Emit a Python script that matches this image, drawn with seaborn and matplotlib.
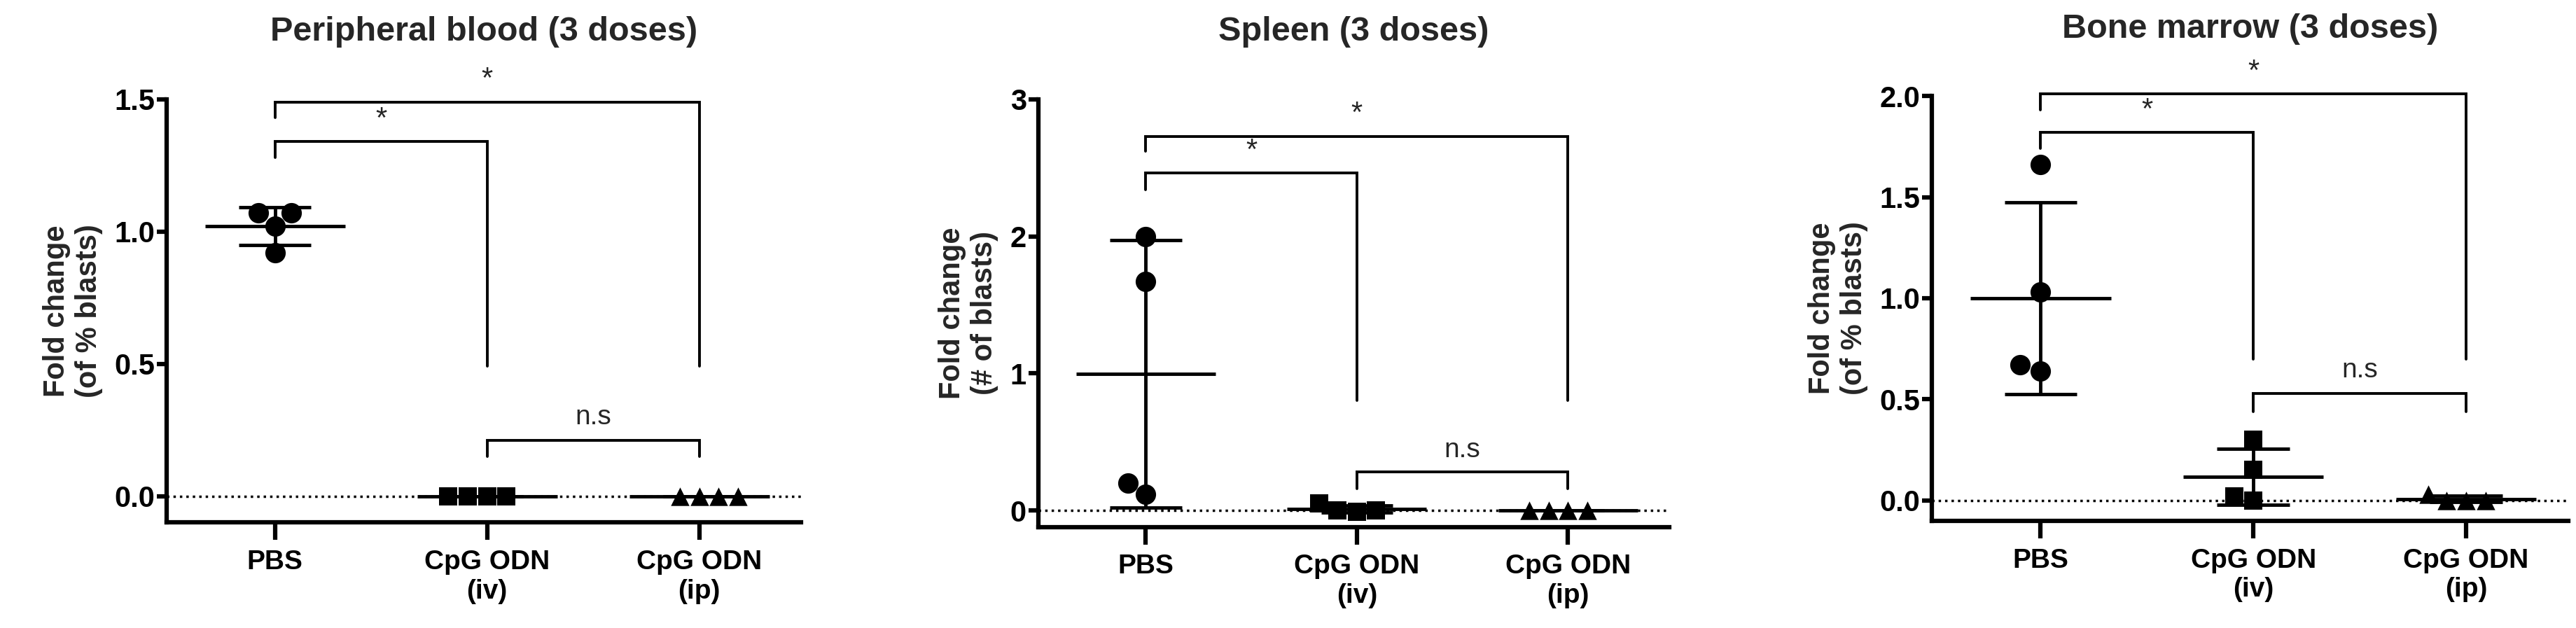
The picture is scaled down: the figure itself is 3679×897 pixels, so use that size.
import matplotlib
matplotlib.use("Agg")
import matplotlib.pyplot as plt
import seaborn as sns
import numpy as np
import pandas as pd

sns.set_theme(style="ticks")
plt.rcParams['font.family'] = ['Liberation Sans', 'DejaVu Sans']

groups = ["PBS", "CpG ODN\n(iv)", "CpG ODN\n(ip)"]
markers = ["o", "s", "^"]

titles = ["Peripheral blood (3 doses)", "Spleen (3 doses)", "Bone marrow (3 doses)"]
ylabels = ["Fold change\n(of % blasts)", "Fold change\n(# of blasts)", "Fold change\n(of % blasts)"]

pb_pbs = [1.07, 1.02, 1.07, 0.92]
pb_iv = [0.0, 0.0, 0.0, 0.0]
pb_ip = [0.0, 0.0, 0.0, 0.0]
sp_pbs = [2.0, 1.67, 0.12, 0.2]
sp_iv = [0.0, -0.01, 0.0, 0.05]
sp_ip = [0.0, 0.0, 0.0, 0.0]
bm_pbs = [1.66, 1.03, 0.64, 0.67]
bm_iv = [0.3, 0.15, 0.0, 0.02]
bm_ip = [0.0, 0.0, 0.0, 0.03]

yticks = [[0.0, 0.5, 1.0, 1.5], [0, 1, 2, 3], [0.0, 0.5, 1.0, 1.5, 2.0]]
yticklabels = [["0.0", "0.5", "1.0", "1.5"], ["0", "1", "2", "3"], ["0.0", "0.5", "1.0", "1.5", "2.0"]]
ylims = [(-0.1, 1.5), (-0.12, 3.0), (-0.1, 2.0)]

# brackets: (y_bar, left_leg_end, right_leg_end, label_y)
top_br = [(1.49, 1.43, 0.49, 1.52), (2.73, 2.62, 0.8, 2.79), (2.01, 1.93, 0.70, 2.05)]
mid_br = [(1.34, 1.28, 0.49, 1.37), (2.46, 2.34, 0.8, 2.52), (1.82, 1.74, 0.70, 1.86)]
ns_br = [(0.21, 0.15, 0.15, 0.25), (0.28, 0.16, 0.16, 0.35), (0.53, 0.44, 0.44, 0.58)]

data = [[pb_pbs, pb_iv, pb_ip], [sp_pbs, sp_iv, sp_ip], [bm_pbs, bm_iv, bm_ip]]
positions = [[0.0647, 0.168, 0.2463, 0.674], [0.403, 0.161, 0.245, 0.681], [0.750, 0.171, 0.247, 0.676]]

fig = plt.figure(figsize=(36.79, 8.97), dpi=100)

for p in range(3):
    ax = fig.add_axes(positions[p])
    for g in range(3):
        df = pd.DataFrame({"group": groups[g], "value": data[p][g]})
        sns.swarmplot(data=df, x="group", y="value", order=groups, ax=ax,
                      color="black", marker=markers[g], size=21 if g == 0 else 19,
                      zorder=4, warn_thresh=1)
    for g in range(3):
        vals = np.array(data[p][g])
        m = vals.mean(); sd = vals.std(ddof=1)
        ax.hlines(m, g - 0.33, g + 0.33, color="black", lw=3.5, zorder=5)
        ax.hlines([m - sd, m + sd], g - 0.17, g + 0.17, color="black", lw=3.5, zorder=5)
        ax.vlines(g, m - sd, m + sd, color="black", lw=3.5, zorder=5)
    ax.axhline(0, color="black", ls=":", lw=2.5, zorder=1)

    lw = 2.8
    for (yb, yl, yr, ty), right, txt, left in [(top_br[p], 2, "*", 0), (mid_br[p], 1, "*", 0), (ns_br[p], 2, "n.s", 1)]:
        ax.plot([left, left, right, right], [yl, yb, yb, yr], color="black", lw=lw, clip_on=False,
                solid_joinstyle="miter")
        ax.text((left + right) / 2, ty, txt, ha="center", va="bottom",
                fontsize=30 if txt == "*" else 28, clip_on=False)

    ax.set_xlim(-0.51, 2.48)
    ax.set_ylim(*ylims[p])
    ax.set_yticks(yticks[p])
    ax.set_yticklabels(yticklabels[p], fontsize=30, fontweight="bold")
    ax.set_xticks([0, 1, 2])
    ax.set_xticklabels(groups, fontsize=28, fontweight="bold")
    ax.set_xlabel("")
    ax.set_ylabel(ylabels[p], fontsize=30, fontweight="bold", labelpad=12)
    ax.set_title(titles[p], fontsize=35, fontweight="bold", pad=60)
    for s in ["top", "right"]:
        ax.spines[s].set_visible(False)
    for s in ["left", "bottom"]:
        ax.spines[s].set_linewidth(4.5)
        ax.spines[s].set_color("black")
    ax.tick_params(axis="x", length=18, width=4.5, pad=10, colors="black")
    ax.tick_params(axis="y", length=10, width=4.5, pad=2, colors="black")
    ax.set_facecolor("white")

fig.savefig("out.png", dpi=100, facecolor="white")
